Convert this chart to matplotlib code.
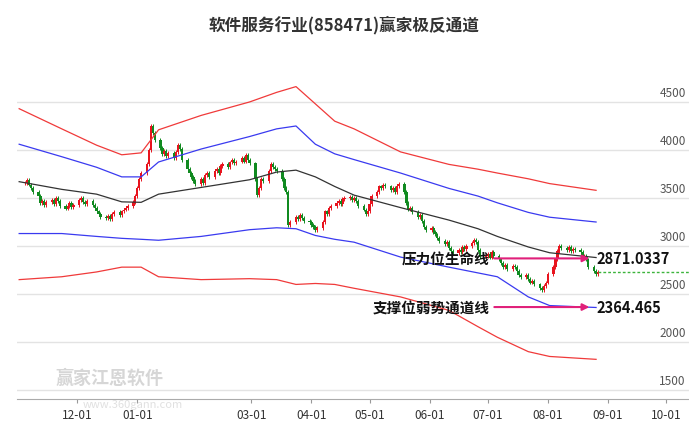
import matplotlib
matplotlib.use("Agg")
import matplotlib.pyplot as plt
import matplotlib.dates as mdates
import matplotlib.transforms as mtrans
import pandas as pd
import numpy as np

plt.rcParams['font.family'] = ['Noto Sans CJK SC', 'DejaVu Sans']

title = "软件服务行业(858471)赢家极反通道"
close = [
 3660,3690,3640,3600,3560, 3520,3450,3470,3430,3460, 3480,3440,3500,3470,3420,
 3390,3420,3450,3410,3430, 3480,3500,3460,3440,3470, 3430,3400,3360,3330,3300,
 3290,3310,3280,3330,3350, 3320,3360,3380,3400,3420, 3460,3520,3600,3700,3760,
 3850,4000,4250,4180,4100, 4020,3960,3990,3940,3970, 3920,3980,4050,4010,3900,
 3800,3760,3720,3680,3650, 3700,3660,3740,3760,3720, 3780,3800,3760,3830,3850,
 3820,3870,3900,3860,3880, 3920,3880,3950,3900,3860, 3700,3530,3600,3700,3680,
 3780,3850,3820,3800,3780, 3700,3600,3560,3220,3250, 3300,3280,3320,3290,3260,
 3250,3220,3200,3170,3190, 3250,3360,3330,3400,3420, 3450,3470,3440,3490,3500,
 3510,3480,3500,3470,3420, 3380,3330,3360,3440,3520, 3560,3620,3600,3640,3620,
 3580,3600,3560,3620,3650, 3560,3450,3380,3400,3350, 3300,3320,3260,3200,3170,
 3190,3150,3120,3080,3050, 3020,3040,2980,2950,2930, 2960,2940,2990,2970,3000,
 3030,3060,3040,2960,2890, 2900,2920,2880,2940,2900, 2860,2820,2780,2800,2760,
 2790,2780,2740,2700,2680, 2700,2660,2620,2640,2600, 2560,2540,2580,2620,2710,
 2780,2860,2950,3000,2980, 2960,2990,2950,2970,2960, 2940,2880,2900,2860,2780,
 2740,2710,2730]
dates = pd.bdate_range("2024-11-04", periods=len(close))

band_dates = ["2024-11-01","2024-11-23","2024-12-11","2024-12-24","2025-01-03","2025-01-12",
              "2025-02-03","2025-02-28","2025-03-14","2025-03-24","2025-04-03","2025-04-13",
              "2025-04-23","2025-05-17","2025-06-11","2025-06-26","2025-07-06","2025-07-22",
              "2025-08-02","2025-08-26"]
red_up   = [4430,4220,4050,3950,3970,4210,4360,4500,4600,4660,4480,4300,4220,3980,3850,3800,3760,3700,3650,3580]
blue_up  = [4060,3930,3820,3720,3720,3875,4010,4140,4220,4250,4060,3960,3900,3760,3600,3520,3450,3350,3300,3250]
mid      = [3670,3590,3540,3460,3455,3540,3610,3690,3770,3790,3720,3620,3530,3400,3270,3180,3100,2990,2930,2880]
blue_dn  = [3130,3130,3100,3080,3070,3060,3100,3170,3190,3180,3110,3070,3040,2885,2780,2720,2680,2470,2380,2360]
red_dn   = [2650,2680,2730,2780,2780,2680,2650,2660,2650,2600,2610,2600,2560,2470,2330,2160,2050,1900,1850,1820]

yticks = [1500, 2000, 2500, 3000, 3500, 4000, 4500]
month_ticks = ["2024-12-01","2025-01-01","2025-03-01","2025-04-01","2025-05-01","2025-06-01",
               "2025-07-01","2025-08-01","2025-09-01","2025-10-01"]
pressure_label, pressure_value = "压力位生命线", 2871.0337
support_label, support_value = "支撑位弱势通道线", 2364.465

fig = plt.figure(figsize=(6.89, 4.27), dpi=100)
ax = fig.add_axes([0.025, 0.063, 0.975, 0.82])
fig.text(0.5, 0.94, title, ha='center', va='center', fontsize=12, fontweight='bold', color='#333333')

x = mdates.date2num(dates)
c = np.array(close, float)
o = np.concatenate([[c[0]], c[:-1]])
hi = np.maximum(o, c) + 20
lo = np.minimum(o, c) - 20
up = c >= o
for xi, oi, ci, h, l, u in zip(x, o, c, hi, lo, up):
    col = '#e8141e' if u else '#108a20'
    ax.vlines(xi, l, h, color=col, lw=0.7)
    b = max(abs(ci - oi), 8)
    ax.bar(xi, b, bottom=min(oi, ci), width=1.2, color=col, linewidth=0)

bd = mdates.date2num(pd.to_datetime(band_dates))
ax.plot(bd, red_up, color='#f03a3a', lw=0.9)
ax.plot(bd, blue_up, color='#3a3af0', lw=0.9)
ax.plot(bd, mid, color='#333333', lw=0.9)
ax.plot(bd, blue_dn, color='#3a3af0', lw=0.9)
ax.plot(bd, red_dn, color='#f03a3a', lw=0.9)

ax.plot([x[-1], mdates.date2num(pd.Timestamp("2025-10-14"))], [c[-1], c[-1]],
        color='#3cb43c', ls=(0, (2, 1.5)), lw=1)

xs = mdates.date2num(pd.Timestamp("2025-07-03"))
xe = mdates.date2num(pd.Timestamp("2025-08-24"))
for lab, val, fmt in [(pressure_label, pressure_value, "{:.4f}"),
                      (support_label, support_value, "{:.3f}")]:
    ax.annotate("", xy=(xe, val), xytext=(xs, val),
                arrowprops=dict(arrowstyle='-|>', color='#e0207a', lw=1.5, mutation_scale=10))
    ax.text(mdates.date2num(pd.Timestamp("2025-07-02")), val, lab, ha='right', va='center',
            fontsize=10.5, fontweight='bold', color='#111111')
    ax.text(xe + 2, val, fmt.format(val), ha='left', va='center', fontsize=10.5,
            fontweight='bold', color='#111111')

ax.set_xlim(mdates.date2num(pd.Timestamp("2024-10-31")), mdates.date2num(pd.Timestamp("2025-10-13")))
ax.set_ylim(1406, 5052)
ax.set_yticks(yticks)
ax.yaxis.grid(True, color='#e3e3e3', lw=1)
ax.set_axisbelow(True)
ax.tick_params(axis='y', left=False, labelleft=False)
tr = mtrans.blended_transform_factory(ax.transAxes, ax.transData)
for v in yticks:
    ax.text(0.995, v + 30, str(v), transform=tr, ha='right', va='bottom', fontsize=8.5, color='#555555')
ax.set_xticks(mdates.date2num(pd.to_datetime(month_ticks)))
ax.set_xticklabels([m[5:] for m in month_ticks], fontsize=8.5, color='#333333')
ax.tick_params(axis='x', length=3, color='#999999')
for s in ['top', 'right', 'left']:
    ax.spines[s].set_visible(False)
ax.spines['bottom'].set_color('#aaaaaa')

fig.text(0.08, 0.1, "赢家江恩软件", fontsize=13, color='#bbbbbb', alpha=0.6, fontweight='bold')
fig.text(0.12, 0.045, "www.360gann.com", fontsize=8, color='#cccccc', alpha=0.6)

fig.savefig("out.png", dpi=100)
